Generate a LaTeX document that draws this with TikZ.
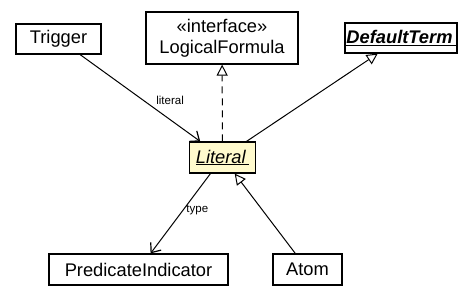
\documentclass[tikz,border=0pt]{standalone}
\usepackage{fontspec}
\setmainfont{Liberation Sans}
\usetikzlibrary{arrows.meta}
\definecolor{litfill}{RGB}{255,250,205}

\begin{document}
\begin{tikzpicture}[x = 1pt, y = -1pt,
    cls/.style = {draw, line width = 1.2pt, inner sep = 0pt, align = center,
                  font = \fontsize{18.3}{21}\selectfont},
    assoc/.style = {line width = 1pt,
                    -{Straight Barb[length = 8pt, width = 13pt, line width = 1.2pt]}},
    gen/.style = {line width = 1pt,
                  -{Triangle[open, fill = white, length = 11pt, width = 11pt]}},
    role/.style = {font = \fontsize{11.5}{13}\selectfont, inner sep = 2.5pt}]
  \useasboundingbox (0, 0) rectangle (473, 299);

  \node[cls, minimum width = 85pt, minimum height = 30pt] (c1) at (58.5, 39) {Trigger};

  \node[cls, minimum width = 152pt, minimum height = 52pt] (c2) at (222, 38)
    {«interface»\\LogicalFormula};

  \node[cls, minimum width = 112pt, minimum height = 30pt] (c3) at (401, 38)
    {\underline{\textbf{\textit{DefaultTerm}}\,}};

  \node[cls, fill = litfill, minimum width = 66pt, minimum height = 31pt] (c4) at (222.5, 157.5)
    {\underline{\textit{Literal}\,}};
  \draw[assoc] (c1) -- (c4) node[role, pos = 0.61, above right] {literal};
  \draw[gen, dash pattern = on 7pt off 5pt] (c4) -- (c2);
  \draw[gen] (c4) -- (c3);

  \node[cls, minimum width = 179pt, minimum height = 31pt] (c5) at (138.5, 269.5) {PredicateIndicator};
  \draw[assoc] (c4) -- (c5) node[role, pos = 0.45, right] {type};

  \node[cls, minimum width = 69pt, minimum height = 31pt] (c6) at (307.5, 269.5) {Atom};
  \draw[gen] (c6) -- (c4);
\end{tikzpicture}
\end{document}
